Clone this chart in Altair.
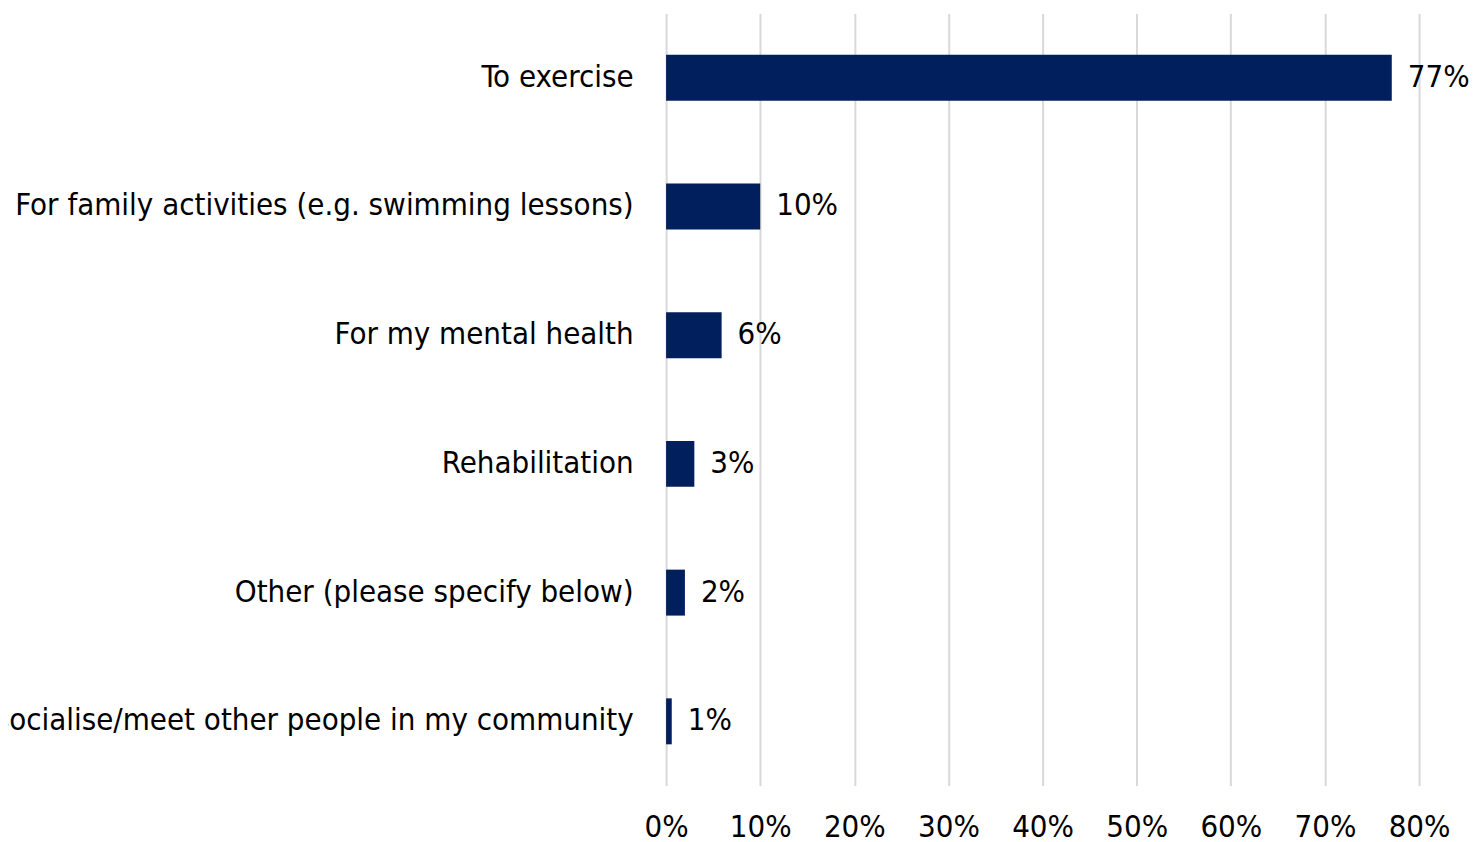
import altair as alt
import pandas as pd

categories = [
    "To exercise",
    "For family activities (e.g. swimming lessons)",
    "For my mental health",
    "Rehabilitation",
    "Other (please specify below)",
    "To socialise/meet other people in my community",
]
values = [0.771, 0.100, 0.059, 0.030, 0.020, 0.006]
tick_values = [0, 0.1, 0.2, 0.3, 0.4, 0.5, 0.6, 0.7, 0.8]

df = pd.DataFrame({"reason": categories, "share": values})

FONT = "DejaVu Sans Condensed"
FS = 31
NAVY = "#001F5C"

y_enc = alt.Y(
    "reason:N",
    sort=categories,
    title=None,
    scale=alt.Scale(paddingInner=0.643, paddingOuter=0.32),
    axis=alt.Axis(
        domain=False, ticks=False, grid=False, labelPadding=33, labelFontSize=FS,
        labelFont=FONT, labelColor="#000000", labelLimit=2000,
    ),
)
x_enc = alt.X(
    "share:Q",
    title=None,
    scale=alt.Scale(domain=[0, 0.8], nice=False),
    axis=alt.Axis(
        values=tick_values, format=".0%", domain=False, ticks=False,
        grid=True, gridColor="#D9D9D9", gridWidth=2,
        labelPadding=27, labelFontSize=FS, labelFont=FONT,
        labelColor="#000000", labelFlush=False,
    ),
)

bars = alt.Chart(df).mark_bar(color=NAVY).encode(x=x_enc, y=y_enc)
labels = alt.Chart(df).mark_text(
    align="left", baseline="middle", dx=16, fontSize=FS, font=FONT, color="#000000"
).encode(
    x=alt.X("share:Q"),
    y=alt.Y("reason:N", sort=categories),
    text=alt.Text("share:Q", format=".0%"),
)

chart = (
    (bars + labels)
    .properties(
        width=754,
        height=773,
        background="#FFFFFF",
        autosize=alt.AutoSizeParams(type="none"),
        padding={"left": 659, "top": 5, "right": 50, "bottom": 56},
    )
    .configure_view(stroke="transparent", strokeWidth=0)
)

chart.save("out.html", embed_options={"renderer": "svg", "actions": False})
